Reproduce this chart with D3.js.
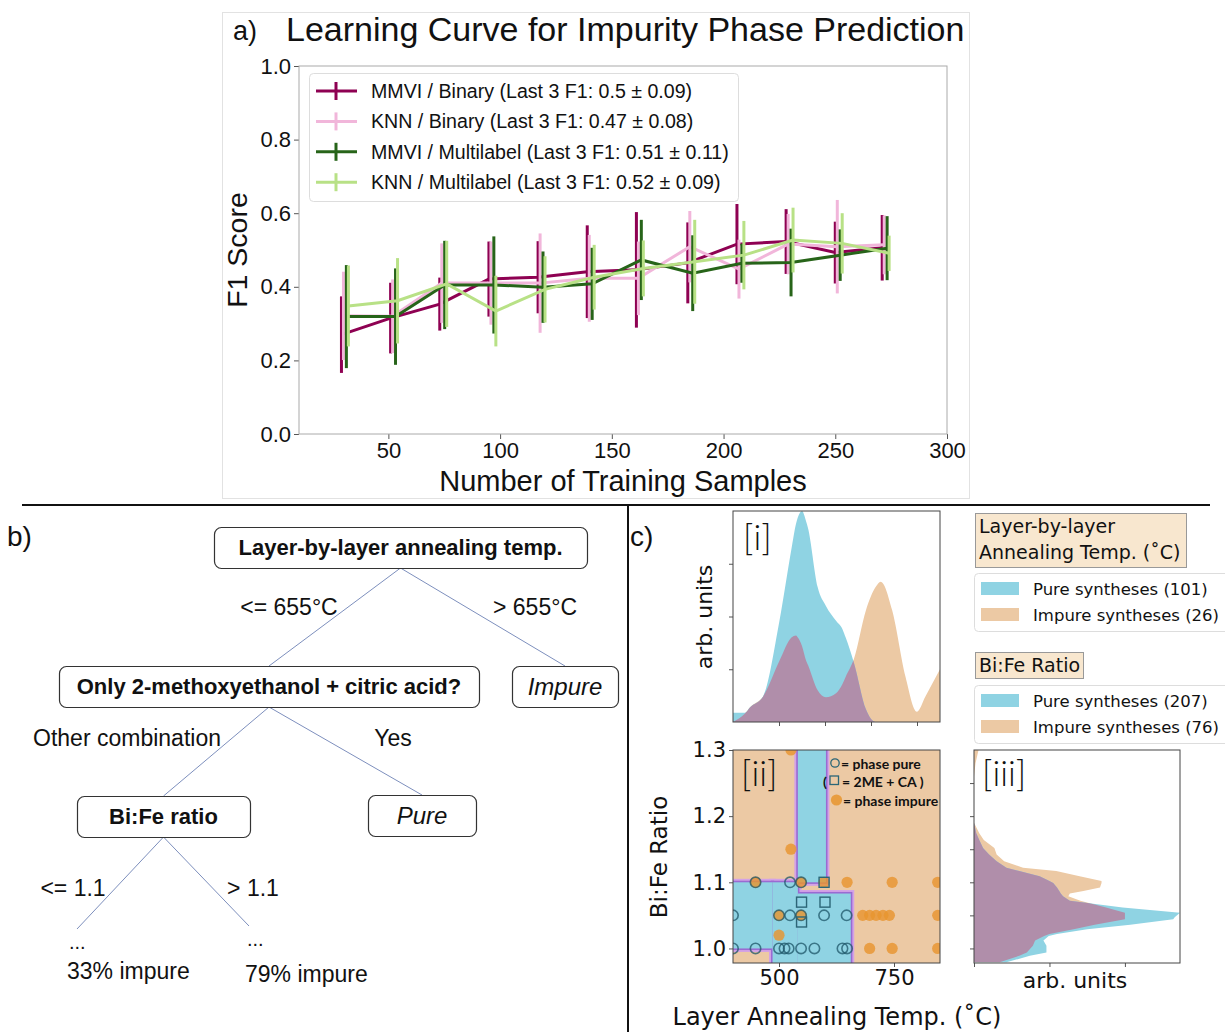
<!DOCTYPE html>
<html>
<head>
<meta charset="utf-8">
<script src="https://cdn.jsdelivr.net/npm/d3@7"></script>
<style>
  body { margin: 0; background: #fff; }
  svg text { font-family: "Liberation Sans", Arial, sans-serif; fill: #111; }
  .tah { font-family: "DejaVu Sans", Verdana, sans-serif !important; }
</style>
</head>
<body>
<script>
// ---------- a) learning curve ----------
const trainSizes = [29, 51, 73, 95, 117, 139, 161, 184, 206, 228, 250, 271];
const seriesShift = [0, 0.9, 2.2, 3.1];
const seriesLabels = [
  "MMVI / Binary (Last 3 F1: 0.5 \u00b1 0.09)",
  "KNN / Binary (Last 3 F1: 0.47 \u00b1 0.08)",
  "MMVI / Multilabel (Last 3 F1: 0.51 \u00b1 0.11)",
  "KNN / Multilabel (Last 3 F1: 0.52 \u00b1 0.09)"
];
const mmviBinaryF1 = [0.27, 0.315, 0.353, 0.421, 0.426, 0.441, 0.446, 0.465, 0.516, 0.523, 0.493, 0.506];
const mmviBinaryErr = [0.104, 0.096, 0.072, 0.102, 0.098, 0.126, 0.157, 0.11, 0.109, 0.088, 0.084, 0.089];
const knnBinaryF1 = [0.321, 0.32, 0.41, 0.41, 0.41, 0.423, 0.423, 0.509, 0.448, 0.516, 0.509, 0.514];
const knnBinaryErr = [0.12, 0.1, 0.108, 0.113, 0.135, 0.118, 0.1, 0.097, 0.08, 0.082, 0.127, 0.08];
const mmviMultiF1 = [0.319, 0.319, 0.405, 0.405, 0.399, 0.408, 0.473, 0.437, 0.464, 0.466, 0.486, 0.505];
const mmviMultiErr = [0.14, 0.131, 0.12, 0.132, 0.097, 0.098, 0.109, 0.103, 0.053, 0.092, 0.07, 0.087];
const knnMultiF1 = [0.348, 0.362, 0.408, 0.334, 0.393, 0.426, 0.45, 0.468, 0.486, 0.527, 0.518, 0.491];
const knnMultiErr = [0.11, 0.116, 0.117, 0.096, 0.09, 0.088, 0.076, 0.114, 0.093, 0.088, 0.082, 0.048];
const xTicksA = [50, 100, 150, 200, 250, 300];
const yTicksA = [0, 0.2, 0.4, 0.6, 0.8, 1.0];
const seriesColors = ["#8e0152", "#f1b6da", "#276419", "#b8e186"];

// ---------- b) decision tree ----------
const treeNodes = [
  { id: "root", text: "Layer-by-layer annealing temp.", kind: "split" },
  { id: "solvent", text: "Only 2-methoxyethanol + citric acid?", kind: "split" },
  { id: "impure", text: "Impure", kind: "leaf" },
  { id: "ratio", text: "Bi:Fe ratio", kind: "split" },
  { id: "pure", text: "Pure", kind: "leaf" },
  { id: "low", text: "33% impure", kind: "more" },
  { id: "high", text: "79% impure", kind: "more" }
];
const treeEdges = [
  { from: "root", to: "solvent", label: "<= 655\u00b0C" },
  { from: "root", to: "impure", label: "> 655\u00b0C" },
  { from: "solvent", to: "ratio", label: "Other combination" },
  { from: "solvent", to: "pure", label: "Yes" },
  { from: "ratio", to: "low", label: "<= 1.1" },
  { from: "ratio", to: "high", label: "> 1.1" }
];

// ---------- c) densities and decision map ----------
const tempGrid =   [400, 426, 437, 465, 501, 527, 537, 541, 550, 559, 563, 584, 602, 624, 638, 645, 663, 689, 710, 721, 746, 775, 800, 818, 850];
const tempPure =   [0.044, 0.044, 0.07, 0.12, 0.48, 0.82, 0.94, 0.97, 1.0, 0.95, 0.92, 0.64, 0.55, 0.48, 0.44, 0.40, 0.28, 0.06, 0, 0, 0, 0, 0, 0, 0];
const tempImpure = [0, 0.04, 0.07, 0.12, 0.29, 0.40, 0.41, 0.40, 0.36, 0.29, 0.27, 0.15, 0.117, 0.136, 0.18, 0.215, 0.30, 0.53, 0.64, 0.665, 0.53, 0.215, 0.049, 0.12, 0.25];

const ratioGrid =   [0.979, 0.989, 0.994, 1.004, 1.012, 1.019, 1.022, 1.029, 1.036, 1.044, 1.047, 1.054, 1.062, 1.072, 1.079, 1.083, 1.087, 1.092, 1.099, 1.102, 1.109, 1.117, 1.122, 1.132, 1.142, 1.152, 1.164, 1.174, 1.19, 1.26, 1.28, 1.30];
const ratioPure =   [0.43, 0.74, 0.96, 0.96, 0.92, 0.99, 1.1, 1.5, 2.07, 2.64, 2.66, 2.73, 1.97, 1.27, 1.18, 1.15, 1.13, 1.1, 1.05, 1.0, 0.87, 0.6, 0.43, 0.3, 0.2, 0.12, 0.07, 0.03, 0, 0, 0, 0];
const ratioImpure = [0.34, 0.6, 0.7, 0.78, 0.81, 0.93, 1.0, 1.32, 1.6, 2.0, 2.0, 2.0, 1.75, 1.41, 1.25, 1.27, 1.45, 1.67, 1.69, 1.69, 1.4, 1.09, 0.65, 0.4, 0.3, 0.27, 0.13, 0.07, 0, 0, 0.02, 0.06];

// rectangles (temp range x Bi:Fe range) predicted phase pure
const pureRegions = [
  { t0: 400, t1: 486, r0: 1.0, r1: 1.1 },
  { t0: 486, t1: 541, r0: 0.9, r1: 1.1 },
  { t0: 541, t1: 656, r0: 0.9, r1: 1.083 },
  { t0: 541, t1: 602, r0: 1.1, r1: 1.4 }
];
const purePoints = [
  [449, 1.1], [524, 1.1], [548, 1.1],
  [400, 1.05], [500, 1.05], [524, 1.05], [548, 1.05], [598, 1.05], [647, 1.05],
  [400, 1.0], [449, 1.0], [500, 1.0], [512, 1.0], [521, 1.0], [548, 1.0], [577, 1.0], [638, 1.0], [648, 1.0]
];
const meCaPoints = [[598, 1.1], [549, 1.07], [600, 1.07], [549, 1.04]];
const impurePoints = [
  [449, 1.1], [548, 1.1], [598, 1.1], [648, 1.1], [746, 1.1], [845, 1.1],
  [500, 1.05], [548, 1.05], [682, 1.05], [697, 1.05], [711, 1.05], [726, 1.05], [740, 1.05], [845, 1.05],
  [500, 1.02], [697, 1.0], [746, 1.0], [845, 1.0], [526, 1.15], [526, 1.3]
];
const tempCounts = [101, 26];
const ratioCounts = [207, 76];

const BLUE = "#8fd3e3", TAN = "#ecc9a4", PURPLE = "#b08eaa";

const svg = d3.select("body").append("svg").attr("width", 1225).attr("height", 1032);
const defs = svg.append("defs");

function tidy(g, size, cls) {
  g.select(".domain").remove();
  g.selectAll(".tick line").attr("stroke", "#555");
  g.selectAll(".tick text").attr("font-size", size).attr("fill", "#111");
  if (cls) g.selectAll(".tick text").attr("class", cls);
}

// separators
svg.append("line").attr("x1", 22).attr("x2", 1210).attr("y1", 505).attr("y2", 505)
  .attr("stroke", "#111").attr("stroke-width", 2);
svg.append("line").attr("x1", 628).attr("x2", 628).attr("y1", 505).attr("y2", 1032)
  .attr("stroke", "#111").attr("stroke-width", 2);

// ================= panel a =================
(function () {
  const g = svg.append("g");
  g.append("rect").attr("x", 222.5).attr("y", 12.5).attr("width", 747).attr("height", 486)
    .attr("fill", "none").attr("stroke", "#e2e2e2");
  const x = d3.scaleLinear().domain([10, 300]).range([299, 947]);
  const y = d3.scaleLinear().domain([0, 1]).range([434, 66]);

  g.append("g").attr("transform", "translate(0,434)")
    .call(d3.axisBottom(x).tickValues(xTicksA).tickSize(5).tickPadding(3))
    .call(tidy, 22);
  g.append("g").attr("transform", "translate(299,0)")
    .call(d3.axisLeft(y).tickValues(yTicksA).tickFormat(d3.format(".1f")).tickSize(5).tickPadding(3))
    .call(tidy, 22);
  g.append("rect").attr("x", 299).attr("y", 66).attr("width", 648).attr("height", 368)
    .attr("fill", "none").attr("stroke", "#aaa");

  const means = [mmviBinaryF1, knnBinaryF1, mmviMultiF1, knnMultiF1];
  const errs = [mmviBinaryErr, knnBinaryErr, mmviMultiErr, knnMultiErr];
  means.forEach((m, i) => {
    const pts = trainSizes.map((t, j) => ({ x: t + seriesShift[i], m: m[j], e: errs[i][j] }));
    const sg = g.append("g");
    sg.selectAll("line").data(pts).join("line")
      .attr("x1", (d) => x(d.x)).attr("x2", (d) => x(d.x))
      .attr("y1", (d) => y(d.m - d.e)).attr("y2", (d) => y(d.m + d.e))
      .attr("stroke", seriesColors[i]).attr("stroke-width", 3);
    sg.append("path").datum(pts)
      .attr("d", d3.line().x((d) => x(d.x)).y((d) => y(d.m)))
      .attr("fill", "none").attr("stroke", seriesColors[i]).attr("stroke-width", 3);
  });

  // legend
  const leg = g.append("g");
  leg.append("rect").attr("x", 309.5).attr("y", 73.5).attr("width", 429).attr("height", 128).attr("rx", 4)
    .attr("fill", "#fff").attr("fill-opacity", 0.85).attr("stroke", "#ddd");
  seriesLabels.forEach((lab, i) => {
    const yy = 91 + i * 30.4;
    leg.append("line").attr("x1", 316).attr("x2", 357).attr("y1", yy).attr("y2", yy)
      .attr("stroke", seriesColors[i]).attr("stroke-width", 3);
    leg.append("line").attr("x1", 336).attr("x2", 336).attr("y1", yy - 9).attr("y2", yy + 9)
      .attr("stroke", seriesColors[i]).attr("stroke-width", 3);
    leg.append("text").attr("x", 371).attr("y", yy).attr("dy", "0.35em").attr("font-size", 19.6).text(lab);
  });

  g.append("text").attr("x", 233).attr("y", 40).attr("font-size", 27).text("a)");
  g.append("text").attr("x", 286).attr("y", 41).attr("font-size", 34).text("Learning Curve for Impurity Phase Prediction");
  g.append("text").attr("transform", "translate(247,250) rotate(-90)").attr("text-anchor", "middle")
    .attr("font-size", 28.5).text("F1 Score");
  g.append("text").attr("x", 623).attr("y", 491).attr("text-anchor", "middle").attr("font-size", 29)
    .text("Number of Training Samples");
})();

// ================= panel b =================
(function () {
  const g = svg.append("g");
  // layout of the diagram, kept apart from the node list
  const box = {
    root: { cx: 400.5, y0: 527, w: 373, h: 41 },
    solvent: { cx: 269, y0: 666, w: 420, h: 41 },
    impure: { cx: 565, y0: 666, w: 106, h: 41 },
    ratio: { cx: 163.5, y0: 796, w: 173, h: 41 },
    pure: { cx: 422, y0: 795, w: 108, h: 41 },
    low: { cx: 77, y0: 929, tx: 67, ty: 979 },
    high: { cx: 249, y0: 926, tx: 245, ty: 982 }
  };
  const labelAt = {
    solvent: [289, 607], impure: [535, 607], ratio: [127, 738],
    pure: [393, 738], low: [73, 888], high: [253, 888]
  };
  treeEdges.forEach((e) => {
    const a = box[e.from], b = box[e.to];
    g.append("line").attr("x1", a.cx).attr("y1", a.y0 + a.h).attr("x2", b.cx).attr("y2", b.y0)
      .attr("stroke", "#7d8fbd").attr("stroke-width", 1);
    g.append("text").attr("x", labelAt[e.to][0]).attr("y", labelAt[e.to][1]).attr("dy", "0.35em")
      .attr("text-anchor", "middle").attr("font-size", 23).text(e.label);
  });
  treeNodes.forEach((n) => {
    const b = box[n.id];
    if (n.kind === "more") {
      g.append("text").attr("x", b.tx + 2).attr("y", b.y0 + 20).attr("font-size", 20).text("...");
      g.append("text").attr("x", b.tx).attr("y", b.ty).attr("font-size", 23).text(n.text);
      return;
    }
    g.append("rect").attr("x", b.cx - b.w / 2 + 0.5).attr("y", b.y0 + 0.5).attr("width", b.w).attr("height", b.h)
      .attr("rx", 7).attr("fill", "#fff").attr("stroke", "#333").attr("stroke-width", 1.2);
    const t = g.append("text").attr("x", b.cx).attr("y", b.y0 + b.h / 2).attr("dy", "0.36em")
      .attr("text-anchor", "middle").text(n.text);
    if (n.kind === "split") t.attr("font-weight", "bold").attr("font-size", 22);
    else t.attr("font-style", "italic").attr("font-size", 24);
  });
  g.append("text").attr("x", 7).attr("y", 546).attr("font-size", 28).text("b)");
})();

// ================= panel c =================
(function () {
  const g = svg.append("g");
  const xT = d3.scaleLinear().domain([400, 850]).range([733, 940]);
  const yD = d3.scaleLinear().domain([0, 1]).range([722, 511]);
  const yR = d3.scaleLinear().domain([0.978, 1.3]).range([963, 750]);
  const xD = d3.scaleLinear().domain([0, 2.73]).range([974, 1180]);

  // [i] temperature densities
  const tData = tempGrid.map((t, i) => ({ t, p: tempPure[i], q: tempImpure[i] }));
  defs.append("clipPath").attr("id", "clipI").append("rect").attr("x", 733).attr("y", 511).attr("width", 207).attr("height", 211);
  const areaP = d3.area().x((d) => xT(d.t)).y0(yD(0)).y1((d) => yD(d.p)).curve(d3.curveMonotoneX);
  const areaQ = d3.area().x((d) => xT(d.t)).y0(yD(0)).y1((d) => yD(d.q)).curve(d3.curveMonotoneX);
  defs.append("clipPath").attr("id", "tanI").append("path").attr("d", areaQ(tData));
  const gi = g.append("g").attr("clip-path", "url(#clipI)");
  gi.append("path").attr("d", areaQ(tData)).attr("fill", TAN);
  gi.append("path").attr("d", areaP(tData)).attr("fill", BLUE);
  gi.append("path").attr("d", areaP(tData)).attr("fill", PURPLE).attr("clip-path", "url(#tanI)");
  g.append("g").attr("transform", "translate(0,722)")
    .call(d3.axisBottom(xT).tickValues([500, 600, 700, 800]).tickSize(4).tickFormat("")).call(tidy, 0);
  g.append("g").attr("transform", "translate(733,0)")
    .call(d3.axisLeft(yD).tickValues([0.25, 0.5, 0.75]).tickSize(4).tickFormat("")).call(tidy, 0);
  g.append("rect").attr("x", 733).attr("y", 511).attr("width", 207).attr("height", 211)
    .attr("fill", "none").attr("stroke", "#444");

  // [ii] decision map
  defs.append("clipPath").attr("id", "clipII").append("rect").attr("x", 733).attr("y", 750).attr("width", 207).attr("height", 213);
  const gm = g.append("g").attr("clip-path", "url(#clipII)");
  gm.append("rect").attr("x", 733).attr("y", 750).attr("width", 207).attr("height", 213).attr("fill", TAN);
  const rx = (d) => xT(d.t0), ry = (d) => yR(d.r1), rw = (d) => xT(d.t1) - xT(d.t0), rh = (d) => yR(d.r0) - yR(d.r1);
  [["#d3a2e6", 7], ["#9a6bd2", 3.2]].forEach(([c, w]) => {
    gm.selectAll(null).data(pureRegions).join("rect")
      .attr("x", rx).attr("y", ry).attr("width", rw).attr("height", rh)
      .attr("fill", "none").attr("stroke", c).attr("stroke-width", w);
  });
  gm.selectAll(null).data(pureRegions).join("rect")
    .attr("x", rx).attr("y", ry).attr("width", rw).attr("height", rh).attr("fill", BLUE);
  gm.selectAll(null).data(impurePoints).join("circle")
    .attr("cx", (d) => xT(d[0])).attr("cy", (d) => yR(d[1])).attr("r", 5.6)
    .attr("fill", "#e8952f").attr("fill-opacity", 0.82);
  gm.selectAll(null).data(purePoints).join("circle")
    .attr("cx", (d) => xT(d[0])).attr("cy", (d) => yR(d[1])).attr("r", 5.2)
    .attr("fill", "none").attr("stroke", "#1d5568").attr("stroke-opacity", 0.75).attr("stroke-width", 1.6);
  gm.selectAll(null).data(meCaPoints).join("rect")
    .attr("x", (d) => xT(d[0]) - 5).attr("y", (d) => yR(d[1]) - 5).attr("width", 10).attr("height", 10)
    .attr("fill", "none").attr("stroke", "#2b6677").attr("stroke-width", 1.4);
  // inner key
  const k = g.append("g").attr("font-weight", "bold").attr("font-size", 14);
  const kt = (x, y, s) => k.append("text").attr("x", x).attr("y", y).attr("dy", "0.35em")
    .style("font-family", "Lato, sans-serif").text(s);
  k.append("circle").attr("cx", 835).attr("cy", 763).attr("r", 4.2).attr("fill", "none").attr("stroke", "#2b6677").attr("stroke-width", 1.3);
  kt(841, 764, "= phase pure");
  kt(823, 782, "(");
  k.append("rect").attr("x", 830).attr("y", 776).attr("width", 8.5).attr("height", 8.5).attr("fill", "none").attr("stroke", "#2b6677").attr("stroke-width", 1.3);
  kt(842, 782, "= 2ME + CA )");
  k.append("circle").attr("cx", 836.5).attr("cy", 800).attr("r", 5.6).attr("fill", "#e8952f").attr("fill-opacity", 0.85);
  kt(843, 801, "= phase impure");

  g.append("g").attr("transform", "translate(0,963)")
    .call(d3.axisBottom(xT).tickValues([500, 750]).tickSize(4).tickPadding(3)).call(tidy, 21, "tah");
  g.append("g").attr("transform", "translate(733,0)")
    .call(d3.axisLeft(yR).tickValues([1.0, 1.1, 1.2, 1.3]).tickFormat(d3.format(".1f")).tickSize(4).tickPadding(3))
    .call(tidy, 21, "tah");
  g.append("rect").attr("x", 733).attr("y", 750).attr("width", 207).attr("height", 213)
    .attr("fill", "none").attr("stroke", "#444");

  // [iii] Bi:Fe densities
  const rData = ratioGrid.map((r, i) => ({ r, p: ratioPure[i], q: ratioImpure[i] }));
  defs.append("clipPath").attr("id", "clipIII").append("rect").attr("x", 974).attr("y", 750).attr("width", 206).attr("height", 213);
  const areaRP = d3.area().y((d) => yR(d.r)).x0(xD(0)).x1((d) => xD(d.p));
  const areaRQ = d3.area().y((d) => yR(d.r)).x0(xD(0)).x1((d) => xD(d.q));
  defs.append("clipPath").attr("id", "tanIII").append("path").attr("d", areaRQ(rData));
  const gr = g.append("g").attr("clip-path", "url(#clipIII)");
  gr.append("path").attr("d", areaRQ(rData)).attr("fill", TAN);
  gr.append("path").attr("d", areaRP(rData)).attr("fill", BLUE);
  gr.append("path").attr("d", areaRP(rData)).attr("fill", PURPLE).attr("clip-path", "url(#tanIII)");
  g.append("g").attr("transform", "translate(0,963)")
    .call(d3.axisBottom(xD).tickValues([0, 1, 2]).tickSize(4).tickFormat("")).call(tidy, 0);
  g.append("g").attr("transform", "translate(974,0)")
    .call(d3.axisLeft(yR).tickValues([1.0, 1.05, 1.1, 1.15, 1.2, 1.25]).tickSize(4).tickFormat("")).call(tidy, 0);
  g.append("rect").attr("x", 974).attr("y", 750).attr("width", 206).attr("height", 213)
    .attr("fill", "none").attr("stroke", "#444");

  // labels
  const lab = (x, y, s, txt, rot) => {
    const t = g.append("text").attr("class", "tah").attr("font-size", s).attr("text-anchor", "middle");
    if (rot) t.attr("transform", `translate(${x},${y}) rotate(-90)`); else t.attr("x", x).attr("y", y);
    return t.text(txt);
  };
  lab(712, 617, 22, "arb. units", true);
  lab(667, 857, 23, "Bi:Fe Ratio", true);
  lab(837, 1025, 24, "Layer Annealing Temp. (\u02daC)");
  lab(1075, 988, 22, "arb. units");
  const pan = (x, y, txt) => g.append("text").attr("x", x).attr("y", y).attr("font-size", 35)
    .attr("font-weight", 300).style("font-family", "Lato, sans-serif").text(txt);
  pan(743, 550, "[i]");
  pan(741, 786, "[ii]");
  pan(982, 786, "[iii]");
  g.append("text").attr("x", 630).attr("y", 546).attr("font-size", 28).text("c)");

  // side legends
  const titleBox = (x, y, w, h, lines) => {
    g.append("rect").attr("x", x + 0.5).attr("y", y + 0.5).attr("width", w).attr("height", h)
      .attr("fill", "#f8e7cf").attr("stroke", "#999");
    lines.forEach((l, i) => g.append("text").attr("class", "tah").attr("x", x + 4).attr("y", y + 13 + i * 26)
      .attr("dy", "0.35em").attr("font-size", 19).text(l));
  };
  const keyBox = (y, counts) => {
    g.append("rect").attr("x", 974.5).attr("y", y + 0.5).attr("width", 262).attr("height", 58).attr("rx", 4)
      .attr("fill", "#fff").attr("stroke", "#ddd");
    ["Pure syntheses", "Impure syntheses"].forEach((s, i) => {
      g.append("rect").attr("x", 981).attr("y", y + 9 + i * 26).attr("width", 38).attr("height", 13)
        .attr("fill", i ? TAN : BLUE);
      g.append("text").attr("class", "tah").attr("x", 1033).attr("y", y + 16 + i * 26).attr("dy", "0.35em")
        .attr("font-size", 16.5).text(`${s} (${counts[i]})`);
    });
  };
  titleBox(975, 513, 211, 54, ["Layer-by-layer", "Annealing Temp. (\u02daC)"]);
  keyBox(573, tempCounts);
  titleBox(975, 652, 108, 26, ["Bi:Fe Ratio"]);
  keyBox(685, ratioCounts);
})();
</script>
</body>
</html>
